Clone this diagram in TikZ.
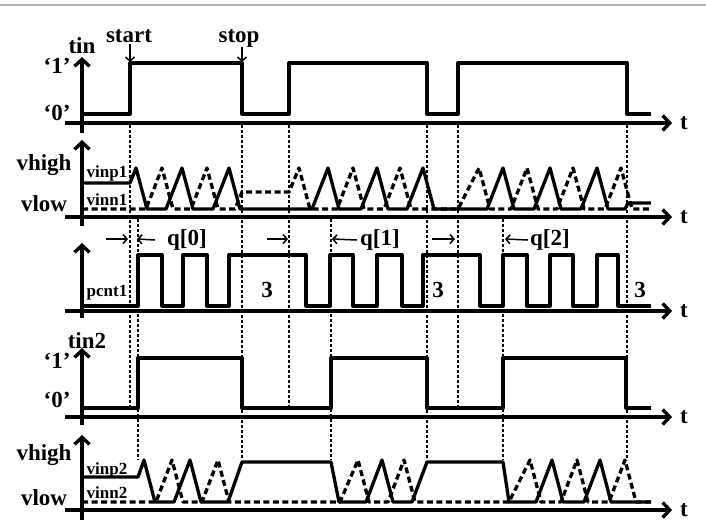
\documentclass[tikz,border=0pt]{standalone}
\usepackage{fontspec}
\setmainfont{Liberation Serif}
\usetikzlibrary{arrows.meta}

\begin{document}
\begin{tikzpicture}[x=1pt,y=-1pt,line join=round,
  wave/.style={line width=3.3pt},
  dashwave/.style={line width=3.3pt,dash pattern=on 6pt off 3.5pt},
  guide/.style={line width=2.4pt,dash pattern=on 2.5pt off 2.5pt},
  axis/.style={line width=3.4pt,-{Straight Barb[length=7pt,width=15pt,line width=3.4pt]}},
  note arrow/.style={line width=1.5pt,-{Straight Barb[length=4pt,width=9pt,line width=1.5pt]}},
  big/.style={font=\bfseries\fontsize{23}{23}\selectfont,inner sep=0pt},
  small/.style={font=\bfseries\fontsize{17}{17}\selectfont,inner sep=0pt}]
  \useasboundingbox (0,0) rectangle (706,523);
  \draw[line width=2pt,gray!60] (0,5) -- (706,5);

  % dotted guides: tin edges, tin2 edges, both
  \foreach \x in {130,289,458}
    \draw[guide] (\x,125) -- (\x,407);
  \foreach \x in {138,331,503}
    \draw[guide] (\x,219) -- (\x,460);
  \foreach \x in {242,427,627}
    \draw[guide] (\x,125) -- (\x,460);

  % axes
  \foreach \b/\tp/\y in {133/57/123, 226/140/217, 318/243/311, 425/348/417, 520/435/510}{
    \draw[axis] (82,\b) -- (82,\tp);
    \draw[axis] (65,\y) -- (672,\y);
    \node[big] (t\y) at (684,\y) {t};
  }

  % tin
  \draw[wave] (82,114) -- (130,114) -- (130,63) -- (242,63) -- (242,114) -- (289,114)
    -- (289,63) -- (427,63) -- (427,114) -- (458,114) -- (458,63) -- (627,63)
    -- (627,114) -- (651,114);
  \node[big] (tin) at (82,46) {tin};
  \node[big] (one1) at (57,66) {‘1’};
  \node[big] (zero1) at (57,113) {‘0’};
  \node[big,anchor=base] (start) at (129,42) {start};
  \node[big,anchor=base] (stop) at (239,42) {stop};
  \coordinate (startpt) at (130,62);
  \coordinate (stoppt) at (242,62);
  \draw[note arrow] (start.south -| startpt) ++(0,2) -- (startpt);
  \draw[note arrow] (stop.south -| stoppt) -- (stoppt);

  % vinp1 / vinn1
  \draw[wave] (82,183) -- (130,183) -- (136,168) -- (147,209)
    \foreach \p in {182,229,328,377,423,503,550,597}{ -- (\p-16,209) -- (\p,168) -- (\p+11,209) }
    -- (625,209) -- (628,203) -- (651,203);
  \draw[dashwave] (82,209)
    \foreach \p in {162,207}{ -- (\p-16,209) -- (\p,168) -- (\p+11,209) }
    -- (235,209) -- (242,192) -- (289,192) -- (299,168) -- (310,209)
    \foreach \p in {353,400}{ -- (\p-16,209) -- (\p,168) -- (\p+11,209) }
    -- (458,209) -- (479,168) -- (490,209)
    \foreach \p in {527,573,621}{ -- (\p-16,209) -- (\p,168) -- (\p+11,209) }
    -- (651,209);
  \node[big] (vhigh1) at (44,165) {vhigh};
  \node[big] (vlow1) at (44,204) {vlow};
  \node[small] (vinp1) at (107,173) {vinp1};
  \node[small] (vinn1) at (107,200) {vinn1};

  % pcnt1
  \draw[wave] (82,306)
    \foreach \a/\b in {138/162,183/207,229/306,330/353,377/402,423/480,503/527,550/573,597/618}
      { -- (\a,306) -- (\a,255) -- (\b,255) -- (\b,306) }
    -- (651,306);
  \node[small] (pcnt1) at (107,293) {pcnt1};
  \foreach \x/\n in {267/a,438/b,640/c}
    \node[big] (three\n) at (\x,290) {3};
  \foreach \n/\a/\b/\c/\d/\q in {0/106/128/137/155/167, 1/267/288/332/357/360, 2/432/455/505/528/530}{
    \coordinate (in\n) at (\a,239);
    \coordinate (inend\n) at (\b,239);
    \coordinate (back\n) at (\c,239);
    \node[big,anchor=west] (q\n) at (\q,240) {q[\n]};
    \draw[note arrow] (in\n) -- (inend\n);
    \draw[note arrow] (q\n.west) ++(\d-\q,0) -- (back\n);
  }

  % tin2
  \draw[wave] (82,408) -- (138,408) -- (138,358) -- (242,358) -- (242,408) -- (331,408)
    -- (331,358) -- (427,358) -- (427,408) -- (503,408) -- (503,358) -- (626,358)
    -- (626,408) -- (651,408);
  \node[big] (tin2) at (87,341) {tin2};
  \node[big] (one2) at (57,361) {‘1’};
  \node[big] (zero2) at (57,400) {‘0’};

  % vinp2 / vinn2
  \draw[wave] (82,477) -- (138,477) -- (144,460) -- (155,502)
    -- (174,502) -- (190,460) -- (201,502) -- (228,502) -- (242,462) -- (331,462) -- (339,502)
    -- (366,502) -- (382,460) -- (393,502) -- (412,502) -- (427,462) -- (503,462) -- (509,502)
    \foreach \p in {552,600}{ -- (\p-16,502) -- (\p,460) -- (\p+11,502) }
    -- (651,502);
  \draw[dashwave] (82,502)
    \foreach \p in {172,218}{ -- (\p-16,502) -- (\p,460) -- (\p+11,502) }
    -- (340,502) -- (358,460) -- (369,502)
    -- (388,502) -- (404,460) -- (415,502)
    -- (509,502) -- (530,460) -- (541,502)
    \foreach \p in {577,625}{ -- (\p-16,502) -- (\p,460) -- (\p+11,502) }
    -- (651,502);
  \node[big] (vhigh2) at (44,455) {vhigh};
  \node[big] (vlow2) at (44,498) {vlow};
  \node[small] (vinp2) at (107,470) {vinp2};
  \node[small] (vinn2) at (107,493) {vinn2};
\end{tikzpicture}
\end{document}
